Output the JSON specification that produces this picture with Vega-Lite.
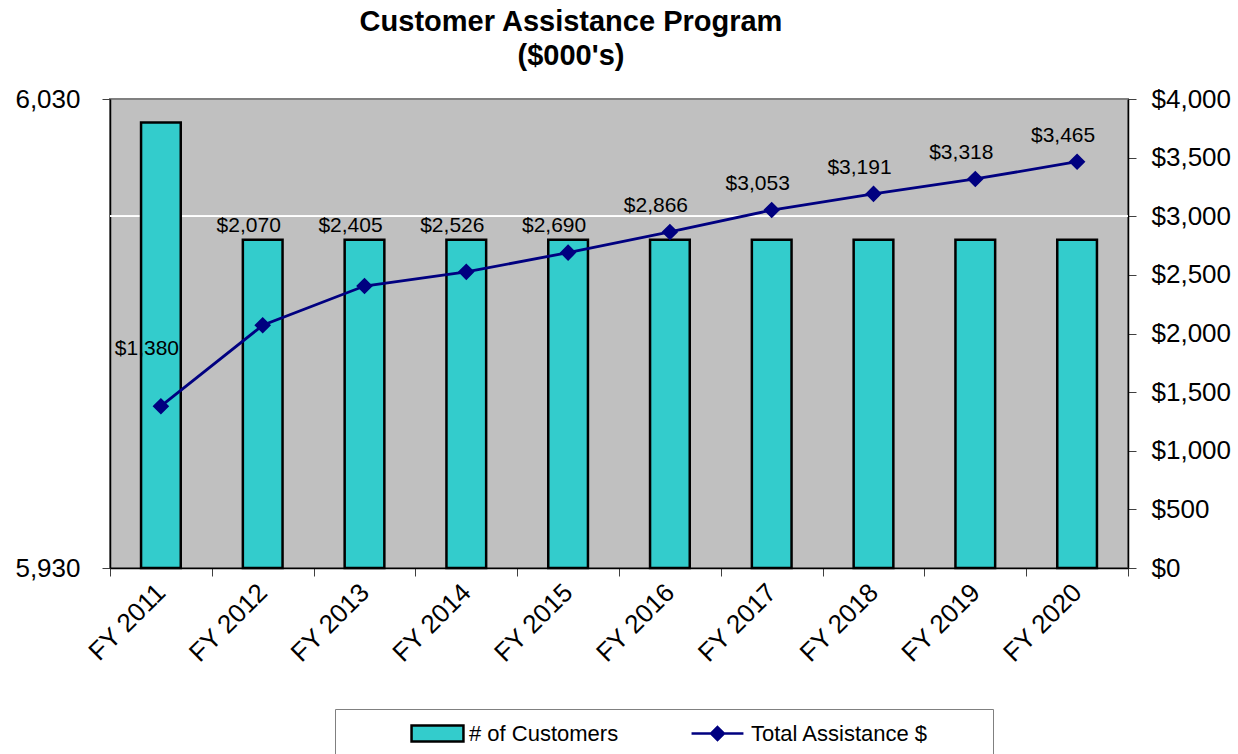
{
  "$schema": "https://vega.github.io/schema/vega-lite/v6.json",
  "autosize": {"type": "none"},
  "width": 1018,
  "height": 469,
  "padding": {"left": 110, "top": 99, "right": 110, "bottom": 186},
  "background": "white",
  "title": {
    "text": ["Customer Assistance Program", "($000's)"],
    "font": "Liberation Sans",
    "fontSize": 29,
    "fontWeight": "bold",
    "lineHeight": 34,
    "anchor": "middle",
    "dx": -48,
    "offset": 15,
    "color": "black"
  },
  "data": {
    "values": [
      {"year": "FY 2011", "customers": 6025, "assistance": 1380},
      {"year": "FY 2012", "customers": 6000, "assistance": 2070},
      {"year": "FY 2013", "customers": 6000, "assistance": 2405},
      {"year": "FY 2014", "customers": 6000, "assistance": 2526},
      {"year": "FY 2015", "customers": 6000, "assistance": 2690},
      {"year": "FY 2016", "customers": 6000, "assistance": 2866},
      {"year": "FY 2017", "customers": 6000, "assistance": 3053},
      {"year": "FY 2018", "customers": 6000, "assistance": 3191},
      {"year": "FY 2019", "customers": 6000, "assistance": 3318},
      {"year": "FY 2020", "customers": 6000, "assistance": 3465}
    ]
  },
  "layer": [
    {
      "mark": {"type": "rule", "color": "white", "strokeWidth": 1.2},
      "encoding": {
        "y": {"datum": 3000, "type": "quantitative", "scale": {"domain": [0, 4000]}, "axis": null}
      }
    },
    {
      "mark": {"type": "bar", "stroke": "black", "strokeWidth": 2.5, "width": {"band": 0.39}},
      "encoding": {
        "x": {
          "field": "year",
          "type": "nominal",
          "sort": null,
          "scale": {"paddingInner": 0, "paddingOuter": 0},
          "axis": {
            "title": null,
            "labelAngle": -45,
            "labelAlign": "right",
            "labelBaseline": "middle",
            "labelFont": "Liberation Sans",
            "labelFontSize": 26,
            "labelColor": "black",
            "labelPadding": 12,
            "labelLimit": 300,
            "tickBand": "extent",
            "tickSize": 8,
            "tickColor": "#404040",
            "domainColor": "black",
            "domainWidth": 1.5,
            "grid": false
          }
        },
        "y": {
          "field": "customers",
          "type": "quantitative",
          "scale": {"domain": [5930, 6030], "zero": false, "nice": false},
          "axis": {
            "orient": "left",
            "title": null,
            "values": [5930, 6030],
            "format": ",.0f",
            "labelFont": "Liberation Sans",
            "labelFontSize": 26,
            "labelColor": "black",
            "labelPadding": 22,
            "tickSize": 8,
            "tickColor": "#404040",
            "domainColor": "black",
            "domainWidth": 1.5,
            "grid": false
          }
        },
        "y2": {"datum": 5930},
        "fill": {
          "datum": "# of Customers",
          "type": "nominal",
          "scale": {"domain": ["# of Customers"], "range": ["#33CCCC"]},
          "legend": {
            "title": " ",
            "titleOrient": "right",
            "titleFontSize": 10,
            "titlePadding": 367,
            "orient": "none",
            "legendX": 225,
            "legendY": 610,
            "direction": "horizontal",
            "labelFont": "Liberation Sans",
            "labelFontSize": 22,
            "labelColor": "black",
            "labelLimit": 400,
            "symbolSize": 900,
            "symbolType": "M3.47,-0.53H6.93V0.53H3.47Z",
            "symbolStrokeColor": "black",
            "symbolStrokeWidth": 2.5,
            "labelOffset": 93,
            "padding": 8,
            "strokeColor": "#808080"
          }
        }
      }
    },
    {
      "encoding": {
        "x": {"field": "year", "type": "nominal", "sort": null},
        "y": {
          "field": "assistance",
          "type": "quantitative",
          "scale": {"domain": [0, 4000], "nice": false},
          "axis": {
            "orient": "right",
            "title": null,
            "values": [0, 500, 1000, 1500, 2000, 2500, 3000, 3500, 4000],
            "format": "$,.0f",
            "labelFont": "Liberation Sans",
            "labelFontSize": 26,
            "labelColor": "black",
            "labelPadding": 15,
            "tickSize": 8,
            "tickColor": "#404040",
            "domainColor": "black",
            "domainWidth": 1.5,
            "grid": false
          }
        }
      },
      "layer": [
        {
          "mark": {"type": "line", "strokeWidth": 2.8},
          "encoding": {
            "stroke": {
              "datum": "Total Assistance $",
              "type": "nominal",
              "scale": {"domain": ["Total Assistance $"], "range": ["#000080"]},
              "legend": {
                "title": null,
                "orient": "none",
                "legendX": 591,
                "legendY": 618,
                "direction": "horizontal",
                "labelFont": "Liberation Sans",
                "labelFontSize": 22,
                "labelColor": "black",
                "labelLimit": 400,
                "symbolSize": 900,
                "symbolType": "M-1.73,0H1.73M0,-0.43L0.43,0L0,0.43L-0.43,0Z",
                "symbolFillColor": "#000080",
                "symbolStrokeWidth": 2.5,
                "labelOffset": 17,
                "padding": 0
              }
            }
          }
        },
        {
          "mark": {"type": "point", "shape": "diamond", "filled": true, "size": 190, "opacity": 1},
          "encoding": {"fill": {"value": "#000080"}, "stroke": {"value": "#000080"}}
        },
        {
          "transform": [
            {"calculate": "datum.year === 'FY 2011' ? datum.assistance + 440 : max(datum.assistance + 171, 2866)", "as": "labelPos"}
          ],
          "mark": {"type": "text", "font": "Liberation Sans", "fontSize": 21, "color": "black", "baseline": "alphabetic", "dx": -14},
          "encoding": {
            "y": {"field": "labelPos", "type": "quantitative"},
            "text": {"field": "assistance", "type": "quantitative", "format": "$,.0f"}
          }
        }
      ]
    }
  ],
  "resolve": {"scale": {"y": "independent"}},
  "config": {
    "view": {"fill": "#C0C0C0", "stroke": "#808080", "strokeWidth": 2},
    "axis": {"grid": false}
  }
}
